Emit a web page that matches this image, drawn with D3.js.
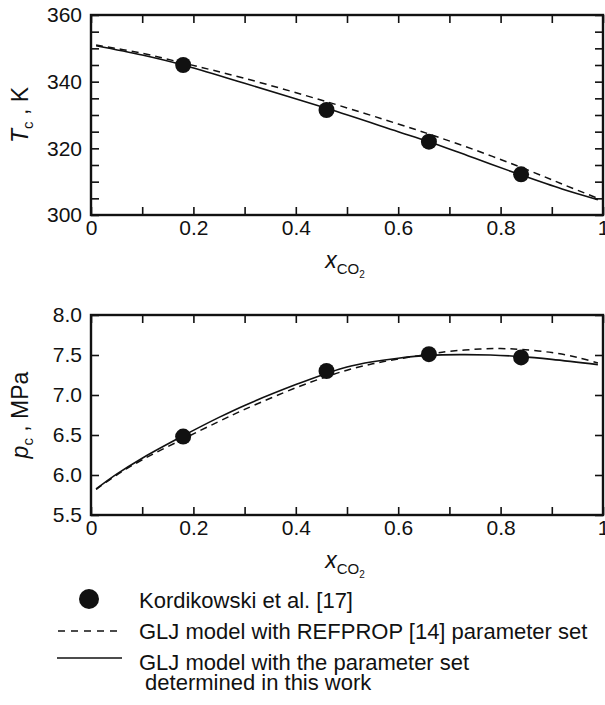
<!DOCTYPE html>
<html><head><meta charset="utf-8">
<script src="https://cdn.jsdelivr.net/npm/d3@7"></script>
<style>
body{margin:0;background:#fff;}
svg{font-family:"Liberation Sans",Arial,Helvetica,sans-serif;}
</style></head>
<body><svg id="c" width="605" height="705"></svg>
<script>
// ---- data ----
const expX = [0.18, 0.46, 0.66, 0.84];
const expT = [345.0, 331.5, 322.0, 312.2];
const expP = [6.48, 7.30, 7.51, 7.47];

const solidTx = [0.01, 0.1, 0.18, 0.3, 0.46, 0.6, 0.66, 0.75, 0.84, 0.92, 0.99];
const solidT  = [350.8, 348.0, 345.0, 339.5, 332.0, 325.0, 322.0, 317.0, 312.0, 307.8, 304.6];
const dashTx  = [0.01, 0.1, 0.18, 0.3, 0.46, 0.6, 0.66, 0.75, 0.84, 0.92, 0.99];
const dashT   = [351.0, 348.5, 345.6, 341.0, 334.0, 327.3, 324.3, 319.5, 314.3, 309.3, 305.0];

const solidPx = [0.01, 0.05, 0.1, 0.18, 0.25, 0.3, 0.4, 0.46, 0.5, 0.55, 0.6, 0.66, 0.72, 0.78, 0.84, 0.9, 0.99];
const solidP  = [5.825, 6.01, 6.21, 6.49, 6.72, 6.87, 7.13, 7.27, 7.35, 7.415, 7.46, 7.495, 7.505, 7.50, 7.48, 7.445, 7.38];
const dashPx  = [0.01, 0.05, 0.1, 0.18, 0.25, 0.3, 0.4, 0.46, 0.5, 0.55, 0.6, 0.66, 0.7, 0.76, 0.8, 0.84, 0.9, 0.95, 0.99];
const dashP   = [5.82, 6.0, 6.19, 6.45, 6.67, 6.82, 7.09, 7.23, 7.31, 7.39, 7.45, 7.51, 7.545, 7.575, 7.58, 7.57, 7.53, 7.47, 7.40];

const xTickLabels = ["0", "0.2", "0.4", "0.6", "0.8", "1"];
const tTickLabels = ["300", "320", "340", "360"];
const pTickLabels = ["5.5", "6.0", "6.5", "7.0", "7.5", "8.0"];

const legendLabels = ["Kordikowski et al. [17]", "GLJ model with REFPROP [14] parameter set", "GLJ model with the parameter set", " determined in this work"];

// ---- drawing ----
const svg = d3.select("#c");
const L = 91, R = 603;
const x = d3.scaleLinear().domain([0, 1]).range([L, R]);

function panel(top, bottom, yDomain, yMinorStep, yLabels, xs1, ys1, xs2, ys2, ex, ey, yTitle) {
  const y = d3.scaleLinear().domain(yDomain).range([bottom, top]);
  const g = svg.append("g");
  const tl = 8;
  const xt = d3.range(0, 1.0001, 0.1);
  const yt = d3.range(yDomain[0], yDomain[1] + 1e-6, yMinorStep);
  const axB = d3.axisBottom(x).tickValues(xt).tickSize(-tl).tickFormat((d) => {
    const v = Math.round(d * 10);
    return v % 2 === 0 ? xTickLabels[v / 2] : "";
  }).tickPadding(5);
  const gb = g.append("g").attr("transform", `translate(0,${bottom})`).call(axB);
  const axT = d3.axisTop(x).tickValues(xt).tickSize(-tl).tickFormat("");
  const gt = g.append("g").attr("transform", `translate(0,${top})`).call(axT);
  const labelStep = parseFloat(yLabels[1]) - parseFloat(yLabels[0]);
  const axL = d3.axisLeft(y).tickValues(yt).tickSize(-tl).tickPadding(9).tickFormat((d) => {
    const k = (d - yDomain[0]) / labelStep;
    return Math.abs(k - Math.round(k)) < 1e-6 ? yLabels[Math.round(k)] : "";
  });
  const gl = g.append("g").attr("transform", `translate(${L},0)`).call(axL);
  const axR = d3.axisRight(y).tickValues(yt).tickSize(-tl).tickFormat("");
  const gr = g.append("g").attr("transform", `translate(${R},0)`).call(axR);
  [gb, gt, gl, gr].forEach(a => {
    a.select(".domain").remove();
    a.selectAll(".tick line").attr("stroke", "#111").attr("stroke-width", 1.6);
    a.selectAll("text").attr("font-size", 21).attr("fill", "#111");
  });
  gb.selectAll("text").attr("dy", "0.72em");
  g.append("rect").attr("x", L).attr("y", top).attr("width", R - L).attr("height", bottom - top)
    .attr("fill", "none").attr("stroke", "#111").attr("stroke-width", 2.4);

  const line = d3.line().x(d => x(d[0])).y(d => y(d[1])).curve(d3.curveCatmullRom.alpha(0.5));
  g.append("path").attr("d", line(xs2.map((v, i) => [v, ys2[i]])))
    .attr("fill", "none").attr("stroke", "#111").attr("stroke-width", 1.5).attr("stroke-dasharray", "7,5");
  g.append("path").attr("d", line(xs1.map((v, i) => [v, ys1[i]])))
    .attr("fill", "none").attr("stroke", "#111").attr("stroke-width", 1.6);
  g.selectAll("circle.e").data(ex.map((v, i) => [v, ey[i]])).enter().append("circle")
    .attr("cx", d => x(d[0])).attr("cy", d => y(d[1])).attr("r", 8).attr("fill", "#111");

  const xtit = g.append("text").attr("x", 345).attr("y", bottom + 53).attr("text-anchor", "middle")
    .attr("font-size", 23).attr("fill", "#111");
  xtit.append("tspan").attr("font-style", "italic").text("x");
  xtit.append("tspan").attr("font-size", 15).attr("dy", 6).text("CO");
  xtit.append("tspan").attr("font-size", 10).attr("dy", 4).text("2");

  const ytit = g.append("text").attr("transform", `translate(28,${(top + bottom) / 2}) rotate(-90)`)
    .attr("text-anchor", "middle").attr("font-size", 23).attr("fill", "#111");
  ytit.append("tspan").attr("font-style", "italic").text(yTitle[0]);
  ytit.append("tspan").attr("font-size", 15).attr("dy", 5).text("c");
  ytit.append("tspan").attr("dy", -5).text(" , " + yTitle[1]);
}

panel(15, 215, [300, 360], 5, tTickLabels, solidTx, solidT, dashTx, dashT, expX, expT, ["T", "K"]);
panel(315, 515, [5.5, 8.0], 0.5, pTickLabels, solidPx, solidP, dashPx, dashP, expX, expP, ["p", "MPa"]);

// legend
const lg = svg.append("g").attr("font-size", 22).attr("fill", "#111");
lg.append("circle").attr("cx", 89).attr("cy", 599).attr("r", 10).attr("fill", "#111");
lg.append("line").attr("x1", 58).attr("x2", 120).attr("y1", 631).attr("y2", 631)
  .attr("stroke", "#111").attr("stroke-width", 1.5).attr("stroke-dasharray", "7,6");
lg.append("line").attr("x1", 57).attr("x2", 122).attr("y1", 658).attr("y2", 658)
  .attr("stroke", "#111").attr("stroke-width", 1.6);
const ly = [600, 631, 662, 682];
legendLabels.forEach((t, i) => {
  lg.append("text").attr("x", 139).attr("y", ly[i]).attr("dy", "0.35em").attr("xml:space", "preserve")
    .style("white-space", "pre").text(t);
});
</script></body></html>
